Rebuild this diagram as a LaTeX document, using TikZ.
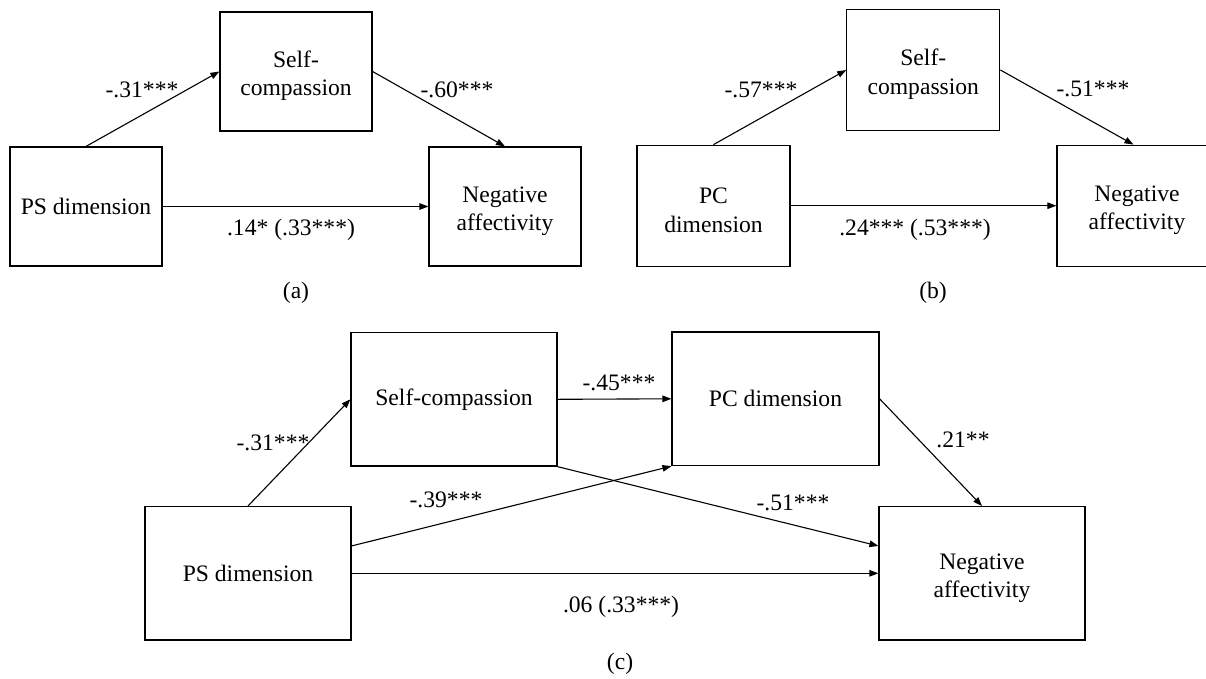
\documentclass[tikz,border=0pt]{standalone}
\usepackage{fontspec}
\setmainfont{Liberation Serif}
\usetikzlibrary{arrows.meta,calc}
\newcommand{\topgap}{\rule{0pt}{25pt}}

\begin{document}
\begin{tikzpicture}[
    x=1pt, y=-1pt,
    every node/.style={font=\fontsize{23.6}{28.5}\selectfont},
    box/.style={rectangle, draw, line width=1.2pt, minimum width=152pt, minimum height=119pt, align=center, inner sep=0pt},
    wbox/.style={box, minimum width=153pt, minimum height=121pt},
    bigbox/.style={box, minimum width=206pt, minimum height=133.5pt},
    arrow/.style={-{Triangle[length=9pt,width=6.5pt]}, line width=1.1pt}
]
\useasboundingbox (0,0) rectangle (1206,678);

% (a)
\node[box] (psA) at (86,206.5) {PS dimension};
\node[box] (scA) at (296,71.5) {\topgap Self-\\compassion};
\node[box] (naA) at (505,206.5) {\topgap Negative\\affectivity};

\draw[arrow] (psA.north) -- (scA.west);
\draw[arrow] (scA.east) -- (naA.north);
\draw[arrow] (psA) -- (naA);

\node (wA1) at (142,90) {-.31***};
\node (wA2) at (457,90) {-.60***};
\node (wA3) at (291,230) {.14* (.33***)};
\node (capA) at (296,293) {(a)};

% (b)
\node[wbox] (pcB) at (713.5,205.7) {\topgap PC\\dimension};
\node[wbox] (scB) at (923.3,70) {\topgap Self-\\compassion};
\node[wbox, minimum width=160pt] (naB) at (1137,205.7) {\topgap Negative\\affectivity};

\draw[arrow] (pcB.north) -- (scB.west);
\draw[arrow] (scB.east) -- ([xshift=-3.5pt]naB.north);
\draw[arrow] (pcB) -- (naB);

\node (wB1) at (761,90) {-.57***};
\node (wB2) at (1093,89) {-.51***};
\node (wB3) at (915,230) {.24*** (.53***)};
\node (capB) at (933,293) {(b)};

% (c)
\node[bigbox] (scC) at (454,399.3) {Self-compassion};
\node[bigbox, minimum width=207pt] (pcC) at (775.5,398.8) {PC dimension};
\node[bigbox] (psC) at (248,573.3) {PS dimension};
\node[bigbox] (naC) at (982,573.3) {\topgap Negative\\affectivity};

\coordinate (naIn) at ($(naC.north west)+(0,40)$);
\coordinate (psOut) at ($(psC.north east)+(0,40)$);

\draw[arrow] (psC.north) -- (scC.west);
\draw[arrow] (scC.east) -- (pcC.west);
\draw[arrow] (pcC.east) -- (naC.north);
\draw[arrow] (scC.south east) -- (naIn);
\draw[arrow] (psOut) -- (pcC.south west);
\draw[arrow] (psC) -- (naC);

\node (wC1) at (273,443) {-.31***};
\node (wC2) at (619,383) {-.45***};
\node (wC3) at (963,440) {.21**};
\node (wC4) at (446,500) {-.39***};
\node (wC5) at (793,503) {-.51***};
\node (wC6) at (621,607) {.06 (.33***)};
\node (capC) at (620,664) {(c)};
\end{tikzpicture}
\end{document}
